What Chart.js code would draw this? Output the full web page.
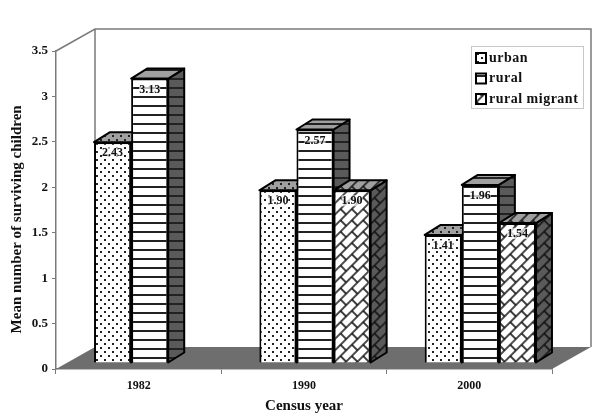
<!DOCTYPE html>
<html lang="en">
<head>
<meta charset="UTF-8">
<title>Mean number of surviving children</title>
<script src="https://cdn.jsdelivr.net/npm/chart.js"></script>
<style>
    body { margin: 0; background: #fff; }
    canvas { display: block; }
</style>
</head>
<body>
<canvas id="chart" width="610" height="418"></canvas>
<script>
    const years = ['1982', '1990', '2000'];
    const urban = [2.43, 1.90, 1.41];
    const rural = [3.13, 2.57, 1.96];
    const ruralMigrant = [null, 1.90, 1.54];
    const yTicks = [0, 0.5, 1, 1.5, 2, 2.5, 3, 3.5];

    const serif = '"Liberation Serif", "Times New Roman", serif';

    function tile(w, h, bg, draw) {
        const c = document.createElement('canvas');
        c.width = w;
        c.height = h;
        const g = c.getContext('2d');
        g.fillStyle = bg;
        g.fillRect(0, 0, w, h);
        g.fillStyle = '#222';
        g.strokeStyle = '#111';
        draw(g);
        return g.createPattern(c, 'repeat');
    }

    function dots(bg) {
        return tile(8, 8, bg, g => {
            g.fillRect(1, 1, 2, 2);
            g.fillRect(5, 5, 2, 2);
        });
    }

    function stripes(bg) {
        return tile(9, 9, bg, g => g.fillRect(0, 3, 9, 2));
    }

    function bricks(bg) {
        const p = tile(16, 16, bg, g => {
            g.lineWidth = 1.6;
            g.beginPath();
            g.moveTo(0, 1); g.lineTo(16, 1);
            g.moveTo(0, 9); g.lineTo(16, 9);
            g.moveTo(1, 1); g.lineTo(1, 9);
            g.moveTo(9, 9); g.lineTo(9, 16);
            g.moveTo(9, 0); g.lineTo(9, 1);
            g.stroke();
        });
        p.setTransform(new DOMMatrix().rotate(-45));
        return p;
    }

    const looks = [
        { front: dots('#fff'), side: dots('#777'), top: dots('#a0a0a0') },
        { front: stripes('#fff'), side: stripes('#5a5a5a'), top: stripes('#a0a0a0') },
        { front: bricks('#fff'), side: bricks('#5a5a5a'), top: bricks('#a0a0a0') }
    ];

    // bars sit a bit inside the floor, back from the front edge
    const barShift = { x: 11, y: -6 };
    const barDepth = { x: 16, y: -10 };
    const wallDepth = { x: 39, y: -22 };

    function face(ctx, pts, fill) {
        ctx.beginPath();
        pts.forEach((p, i) => i ? ctx.lineTo(p[0], p[1]) : ctx.moveTo(p[0], p[1]));
        ctx.closePath();
        ctx.fillStyle = fill;
        ctx.fill();
        ctx.stroke();
    }

    function drawSides(chart, d) {
        const { ctx } = chart;
        const look = looks[d];
        const values = chart.data.datasets[d].data;
        ctx.save();
        ctx.strokeStyle = '#000';
        ctx.lineWidth = 2;
        ctx.lineJoin = 'round';
        chart.getDatasetMeta(d).data.forEach((bar, i) => {
            if (values[i] === null) return;
            const l = bar.x - bar.width / 2, r = bar.x + bar.width / 2;
            const dx = barDepth.x, dy = barDepth.y;
            face(ctx, [[r, bar.y], [r + dx, bar.y + dy], [r + dx, bar.base + dy], [r, bar.base]], look.side);
            face(ctx, [[l, bar.y], [l + dx, bar.y + dy], [r + dx, bar.y + dy], [r, bar.y]], look.top);
        });
        ctx.restore();
    }

    const box3d = {
        id: 'box3d',
        beforeDatasetsDraw(chart) {
            const { ctx, chartArea: a } = chart;
            const bx = a.left + wallDepth.x, ex = a.right + wallDepth.x;
            const tY = a.top + wallDepth.y, bY = a.bottom + wallDepth.y;

            ctx.save();
            ctx.strokeStyle = '#7a7a7a';
            ctx.lineWidth = 1.5;
            ctx.beginPath();
            ctx.moveTo(a.left, a.top);
            ctx.lineTo(bx, tY);
            ctx.lineTo(ex, tY);
            ctx.lineTo(ex, bY);
            ctx.moveTo(bx, tY);
            ctx.lineTo(bx, bY);
            ctx.stroke();

            ctx.beginPath();
            ctx.moveTo(a.left, a.bottom);
            ctx.lineTo(bx, bY);
            ctx.lineTo(ex, bY);
            ctx.lineTo(a.right, a.bottom);
            ctx.closePath();
            ctx.fillStyle = '#6e6e6e';
            ctx.fill();
            ctx.restore();

            // urban first, so each bar's front covers its left neighbour's side
            ctx.save();
            ctx.translate(barShift.x, barShift.y);
            chart.data.datasets.forEach((ds, d) => {
                drawSides(chart, d);
                chart.getDatasetMeta(d).controller.draw();
            });
        },
        beforeDatasetDraw() {
            return false;
        },
        afterDatasetsDraw(chart) {
            const { ctx } = chart;
            // value labels, still inside the shifted bar plane
            ctx.font = 'bold 12px ' + serif;
            ctx.textAlign = 'center';
            ctx.textBaseline = 'middle';
            chart.data.datasets.forEach((ds, d) => {
                chart.getDatasetMeta(d).data.forEach((bar, i) => {
                    if (ds.data[i] === null) return;
                    const label = ds.data[i].toFixed(2);
                    const w = ctx.measureText(label).width;
                    ctx.fillStyle = 'rgba(255,255,255,0.7)';
                    ctx.fillRect(bar.x - w / 2, bar.y + 5, w, 11);
                    ctx.fillStyle = '#111';
                    ctx.fillText(label, bar.x, bar.y + 11);
                });
            });
            ctx.restore();

            // legend box
            ctx.save();
            ctx.fillStyle = '#fff';
            ctx.strokeStyle = '#c8c8c8';
            ctx.lineWidth = 1;
            ctx.fillRect(471, 46, 112, 62);
            ctx.strokeRect(471.5, 46.5, 112, 62);
            ctx.font = 'bold 14px ' + serif;
            ctx.letterSpacing = '0.5px';
            ctx.textAlign = 'left';
            ctx.textBaseline = 'middle';
            chart.data.datasets.forEach((ds, d) => {
                const y = 58 + d * 20.5;
                ctx.fillStyle = looks[d].front;
                ctx.strokeStyle = '#000';
                ctx.lineWidth = 2;
                ctx.fillRect(476, y - 5, 10, 10);
                ctx.strokeRect(476, y - 5, 10, 10);
                ctx.fillStyle = '#111';
                ctx.fillText(ds.label, 489, y);
            });
            ctx.restore();
        }
    };

    new Chart(document.getElementById('chart'), {
        type: 'bar',
        data: {
            labels: years,
            datasets: [
                { label: 'urban', data: urban, backgroundColor: looks[0].front },
                { label: 'rural', data: rural, backgroundColor: looks[1].front },
                { label: 'rural migrant', data: ruralMigrant, backgroundColor: looks[2].front }
            ]
        },
        plugins: [box3d],
        options: {
            responsive: false,
            animation: false,
            layout: { padding: { top: 51, right: 58 } },
            datasets: {
                bar: {
                    barPercentage: 1,
                    categoryPercentage: 0.673,
                    borderColor: '#000',
                    borderWidth: 2
                }
            },
            plugins: { legend: { display: false }, tooltip: { enabled: false } },
            scales: {
                x: {
                    afterFit(s) { s.height = 49; },
                    border: { color: '#7a7a7a', width: 1.5 },
                    grid: { drawOnChartArea: false, color: '#7a7a7a', tickLength: 5 },
                    ticks: { color: '#111', padding: 5, font: { family: serif, weight: 'bold', size: 12 } },
                    title: {
                        display: true,
                        text: 'Census year',
                        color: '#111',
                        padding: { top: 0, bottom: 3 },
                        font: { family: serif, weight: 'bold', size: 15 }
                    }
                },
                y: {
                    min: 0,
                    max: 3.5,
                    afterFit(s) { s.width = 56; },
                    afterBuildTicks(s) { s.ticks = yTicks.map(v => ({ value: v })); },
                    border: { color: '#7a7a7a', width: 1.5 },
                    grid: { drawOnChartArea: false, color: '#7a7a7a', tickLength: 4 },
                    ticks: {
                        color: '#111',
                        padding: 4,
                        font: { family: serif, weight: 'bold', size: 13 },
                        callback: v => String(v)
                    },
                    title: {
                        display: true,
                        // trailing spaces push the centred title down to where it sits in the original
                        text: 'Mean number of surviving children     ',
                        color: '#111',
                        padding: { top: 8, bottom: 0 },
                        font: { family: serif, weight: 'bold', size: 15 }
                    }
                }
            }
        }
    });
</script>
</body>
</html>
